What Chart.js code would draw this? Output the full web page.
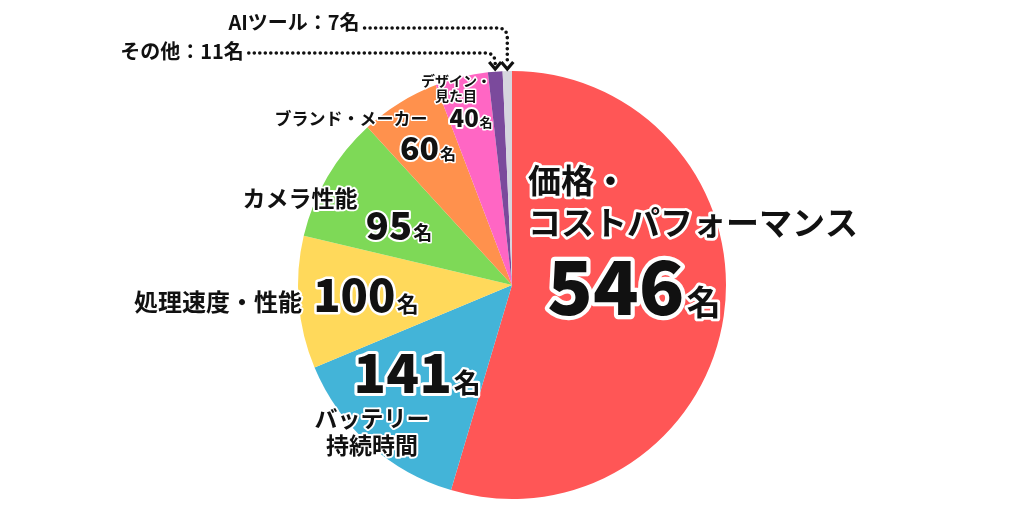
<!DOCTYPE html>
<html><head><meta charset="utf-8">
<script src="https://cdn.jsdelivr.net/npm/chart.js@4"></script>
<style>html,body{margin:0;padding:0;background:#fff}#c{display:block}</style>
</head><body>
<canvas id="c" width="1024" height="512"></canvas>
<script>
// ---- data ----
const categories = ['価格・\nコストパフォーマンス', 'バッテリー\n持続時間', '処理速度・性能', 'カメラ性能', 'ブランド・メーカー', 'デザイン・\n見た目', 'その他', 'AIツール'];
const counts = [546, 141, 100, 95, 60, 40, 11, 7];
const unitLabel = '名';
const sliceColors = ['#FF5656', '#43B4D8', '#FFD95B', '#7ED957', '#FF914D', '#FF66C4', '#7B4A9C', '#D6D6DE'];

// ---- label layout (offsets from pie centre, px) ----
const textLayout = [
  {dx: 16, dy: -105, lh: 42, size: 33, align: 'left'},
  {dx: -140, dy: 133, lh: 27, size: 23, align: 'center'},
  {dx: -294, dy: 17, lh: 0, size: 24, align: 'center'},
  {dx: -212, dy: -87, lh: 0, size: 23, align: 'center'},
  {dx: -161, dy: -166, lh: 0, size: 17, align: 'center'},
  {dx: -56, dy: -204, lh: 15, size: 14, align: 'center'},
  null, null
];
const numLayout = [
  {dx: 122, dy: 30, size: 75, unit: 34},
  {dx: -95, dy: 108, size: 54, unit: 27},
  {dx: -146, dy: 27, size: 45, unit: 22},
  {dx: -113, dy: -45, size: 38, unit: 19},
  {dx: -84, dy: -125, size: 32, unit: 16},
  {dx: -41, dy: -158, size: 24, unit: 13},
  null, null
];
const calloutLayout = [null, null, null, null, null, null,
  {dx: -330, dy: -234, size: 20, leaderDy: -232},
  {dx: -218, dy: -263, size: 20, leaderDy: -257}
];

const FONT = '"Noto Sans CJK JP", "Noto Sans", sans-serif';

function outlined(ctx, text, x, y, size, weight, align, baseline, sw) {
  ctx.font = weight + ' ' + size + 'px ' + FONT;
  ctx.textAlign = align;
  ctx.textBaseline = baseline;
  ctx.lineJoin = 'round';
  ctx.strokeStyle = '#fff';
  ctx.lineWidth = sw;
  ctx.strokeText(text, x, y);
  ctx.fillStyle = '#111';
  ctx.fillText(text, x, y);
}

const labelPlugin = {
  id: 'sliceLabels',
  afterDatasetsDraw(chart) {
    const ctx = chart.ctx;
    const meta = chart.getDatasetMeta(0);
    const a0 = meta.data[0];
    const cx = a0.x, cy = a0.y, R = a0.outerRadius;
    ctx.save();
    meta.data.forEach((arc, i) => {
      const tl = textLayout[i];
      if (tl) {
        const lines = categories[i].split('\n');
        lines.forEach((ln, k) => {
          outlined(ctx, ln, cx + tl.dx, cy + tl.dy + k * tl.lh, tl.size, 'bold', tl.align, 'middle', Math.max(3, tl.size / 6));
        });
      }
      const nl = numLayout[i];
      if (nl) {
        const numText = String(counts[i]);
        ctx.font = '900 ' + nl.size + 'px ' + FONT;
        const wn = ctx.measureText(numText).width;
        ctx.font = 'bold ' + nl.unit + 'px ' + FONT;
        const wu = ctx.measureText(unitLabel).width;
        const gap = nl.size * 0.03;
        const x0 = cx + nl.dx - (wn + gap + wu) / 2;
        const by = cy + nl.dy;
        outlined(ctx, numText, x0, by, nl.size, '900', 'left', 'alphabetic', Math.max(4, nl.size / 9));
        outlined(ctx, unitLabel, x0 + wn + gap, by, nl.unit, 'bold', 'left', 'alphabetic', Math.max(3, nl.unit / 6));
      }
      const cl = calloutLayout[i];
      if (cl) {
        const txt = categories[i] + '：' + counts[i] + unitLabel;
        const tx = cx + cl.dx, ty = cy + cl.dy;
        ctx.font = 'bold ' + cl.size + 'px ' + FONT;
        const w = ctx.measureText(txt).width;
        outlined(ctx, txt, tx, ty, cl.size, 'bold', 'center', 'middle', 3);
        const mid = (arc.startAngle + arc.endAngle) / 2;
        const tipX = cx + R * Math.cos(mid);
        const tipY = cy - R - 2;
        const ly = cy + cl.leaderDy;
        const rr = 10;
        ctx.beginPath();
        ctx.moveTo(tx + w / 2 + 5, ly);
        ctx.lineTo(tipX - rr, ly);
        ctx.quadraticCurveTo(tipX, ly, tipX, ly + rr);
        ctx.lineTo(tipX, tipY - 5);
        ctx.setLineDash([0, 5.5]);
        ctx.lineCap = 'round';
        ctx.lineWidth = 3.6;
        ctx.strokeStyle = '#111';
        ctx.stroke();
        ctx.setLineDash([]);
        ctx.beginPath();
        ctx.moveTo(tipX - 6, tipY - 7);
        ctx.lineTo(tipX, tipY);
        ctx.lineTo(tipX + 6, tipY - 7);
        ctx.lineJoin = 'miter';
        ctx.lineCap = 'butt';
        ctx.lineWidth = 3.2;
        ctx.stroke();
      }
    });
    ctx.restore();
  }
};

new Chart(document.getElementById('c'), {
  type: 'pie',
  data: {
    labels: categories.map(c => c.replace('\n', '')),
    datasets: [{
      data: counts,
      backgroundColor: sliceColors,
      borderWidth: 0
    }]
  },
  options: {
    responsive: false,
    devicePixelRatio: 1,
    animation: false,
    layout: {padding: {top: 71, bottom: 13}},
    plugins: {legend: {display: false}, tooltip: {enabled: false}}
  },
  plugins: [labelPlugin]
});
</script>
</body></html>
